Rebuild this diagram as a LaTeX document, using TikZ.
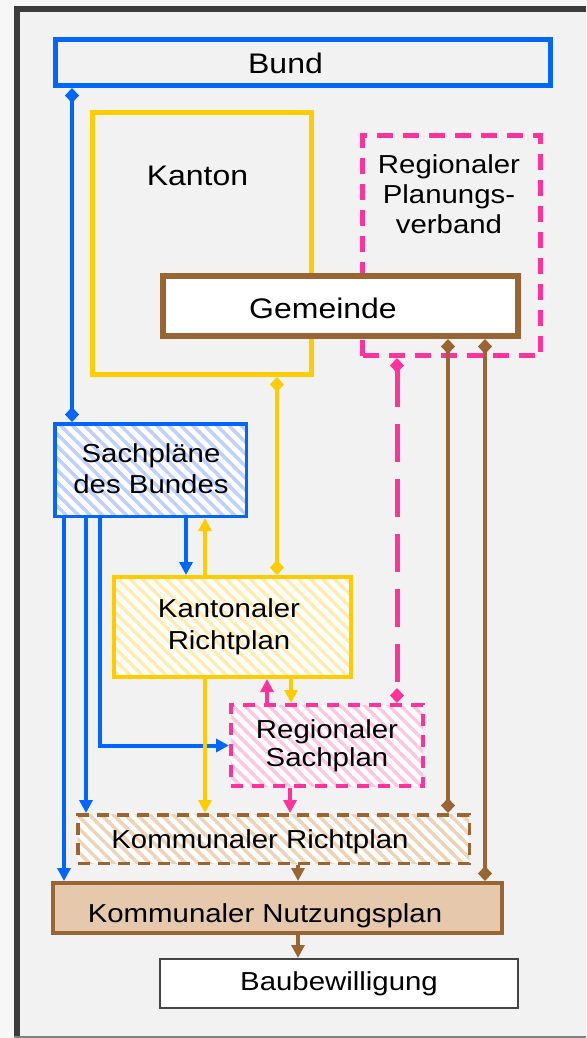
\documentclass[tikz,border=0pt]{standalone}
\usepackage{fontspec}
\setmainfont{Liberation Sans}[FakeStretch=1.13]
\usetikzlibrary{arrows.meta}
\usetikzlibrary{patterns.meta}
\definecolor{bundblue}{HTML}{0066FF}
\definecolor{kantyellow}{HTML}{FFCC00}
\definecolor{regpink}{HTML}{FF3399}
\definecolor{gembrown}{HTML}{996633}
\definecolor{nutzfill}{HTML}{E6C9AD}
\definecolor{bluehatch}{HTML}{BFD0FF}
\definecolor{yellowhatch}{HTML}{FFEDB0}
\definecolor{pinkhatch}{HTML}{FFC6E2}
\definecolor{tanhatch}{HTML}{EDD3B8}
\definecolor{panelgray}{HTML}{F2F2F2}
\definecolor{framedark}{HTML}{3C3C3C}
\definecolor{bauframe}{HTML}{444444}
\newcommand{\bigtxt}{\fontsize{28.3}{30}\selectfont}
\newcommand{\plantxt}{\fontsize{26}{30}\selectfont}
\tikzset{
  dmd/.tip={Diamond[length=15pt,width=14pt]},
  trg/.tip={Triangle[length=13pt,width=13pt]}
}

\begin{document}
\begin{tikzpicture}[x=1pt,y=-1pt,
    planbox/.style={draw,rectangle,inner sep=0pt},
    hatched/.style={preaction={fill=white},pattern={Lines[angle=-45,distance=8.5pt,line width=3.5pt]}},
    link/.style={line width=4pt},
    txt/.style={inner sep=0pt,anchor=base,font=\plantxt},
    bigtxt/.style={inner sep=0pt,anchor=base,font=\bigtxt}]
    \useasboundingbox (0,0) rectangle (586,1038);
    \fill[white!97!black] (0,0) rectangle (586,1038);
    \fill[panelgray] (14,6) rectangle (586,1037);
    \draw[line width=6pt,framedark] (17,1038) -- (17,9) -- (586,9);
    \draw[line width=2pt,gray] (14,1037) -- (586,1037);
    % upper level
    \node[planbox,line width=5pt,draw=kantyellow,minimum width=219pt,minimum height=262pt] (kanton) at (202,243.5) {};
    \node[planbox,line width=5pt,draw=regpink,dash pattern=on 16pt off 10pt,minimum width=178pt,minimum height=220pt] (regpv) at (451.5,245.5) {};
    \node[planbox,line width=6pt,draw=gembrown,fill=white,minimum width=355pt,minimum height=60pt] (gemeinde) at (340.5,306) {};
    \node[planbox,line width=5pt,draw=bundblue,minimum width=495pt,minimum height=46pt] (bund) at (303,62.5) {};
    \node[bigtxt] (bundlbl) at (285.5,74) {Bund};
    \node[bigtxt] (kantonlbl) at (197.5,185) {Kanton};
    \node[bigtxt] (gemeindelbl) at (323,318) {Gemeinde};
    \node[inner sep=0pt,align=center,font=\plantxt] (regpvlbl) at (449,194) {Regionaler\\Planungs-\\verband};
    % plans
    \node[planbox,line width=3.5pt,draw=bundblue,hatched,pattern color=bluehatch,minimum width=191.5pt,minimum height=92.5pt] (sachbund) at (150.5,470) {};
    \node[planbox,line width=4pt,draw=kantyellow,hatched,pattern color=yellowhatch,minimum width=237pt,minimum height=100pt] (kantrp) at (232.5,627) {};
    \node[planbox,line width=4pt,draw=regpink,dash pattern=on 12pt off 9pt,hatched,pattern color=pinkhatch,minimum width=192pt,minimum height=81pt] (regsach) at (327,745.5) {};
    \node[planbox,line width=3.5pt,draw=gembrown,dash pattern=on 12pt off 8pt,hatched,pattern color=tanhatch,minimum width=391.5pt,minimum height=48.5pt] (komrp) at (273.5,839) {};
    \node[planbox,line width=4pt,draw=gembrown,fill=nutzfill,minimum width=449pt,minimum height=50pt] (nutzplan) at (277.5,908) {};
    \node[planbox,line width=2pt,draw=bauframe,fill=white,minimum width=358pt,minimum height=49pt] (baubew) at (339,983.5) {};
    \node[inner sep=0pt,align=center,font=\fontsize{26}{31}\selectfont] (sachbundlbl) at (151,469) {Sachpläne\\des Bundes};
    \node[inner sep=0pt,align=center,font=\fontsize{26}{32}\selectfont] (kantrplbl) at (229,627) {Kantonaler\\Richtplan};
    \node[inner sep=0pt,align=center,font=\fontsize{26}{28}\selectfont] (regsachlbl) at (327,746) {Regionaler\\Sachplan};
    \node[txt] (komrplbl) at (260,848) {Kommunaler Richtplan};
    \node[txt] (nutzplanlbl) at (265,922) {Kommunaler Nutzungsplan};
    \node[txt] (baubewlbl) at (339,990) {Baubewilligung};
    % connectors
    \draw[link,bundblue,dmd-dmd] (72,0 |- bund.south) -- (72,0 |- sachbund.north);
    \draw[link,kantyellow,dmd-dmd] (277,0 |- kanton.south) -- (277,0 |- kantrp.north);
    \draw[link,bundblue,-trg] (186,0 |- sachbund.south) -- (186,0 |- kantrp.north);
    \draw[link,kantyellow,-trg] (205,0 |- kantrp.north) -- (205,0 |- sachbund.south);
    \draw[line width=5pt,regpink,dash pattern=on 38pt off 17pt,dmd-dmd] (397,0 |- regpv.south) -- (397,0 |- regsach.north);
    \draw[link,regpink,-trg] (267,0 |- regsach.north) -- (267,0 |- kantrp.south);
    \draw[link,kantyellow,-trg] (291,0 |- kantrp.south) -- (291,0 |- regsach.north);
    \draw[link,bundblue,-trg] (64,0 |- sachbund.south) -- (64,0 |- nutzplan.north);
    \draw[link,bundblue,-trg] (86,0 |- sachbund.south) -- (86,0 |- komrp.north);
    \draw[link,bundblue,-trg] (100,0 |- sachbund.south) |- (regsach.west);
    \draw[link,kantyellow,-trg] (205,0 |- kantrp.south) -- (205,0 |- komrp.north);
    \draw[link,regpink,-trg] (290,0 |- regsach.south) -- (290,0 |- komrp.north);
    \draw[link,gembrown,dmd-dmd] (448,0 |- gemeinde.south) -- (448,0 |- komrp.north);
    \draw[link,gembrown,dmd-dmd] (485,0 |- gemeinde.south) -- (485,0 |- nutzplan.north);
    \draw[link,gembrown,-trg] (298,0 |- komrp.south) -- (298,0 |- nutzplan.north);
    \draw[link,gembrown,-trg] (298,0 |- nutzplan.south) -- (298,0 |- baubew.north);
\end{tikzpicture}
\end{document}
